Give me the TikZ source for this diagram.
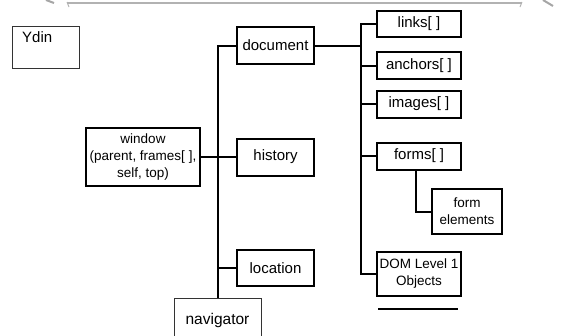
\documentclass[tikz,border=0pt]{standalone}
\usepackage{fontspec}
\setmainfont{Liberation Sans}
\begin{document}
\begin{tikzpicture}[x=1pt,y=-1pt,
  box/.style={draw=black, line width=2pt, inner sep=0pt, align=center, font=\fontsize{15}{17}\selectfont},
  smallbox/.style={box, font=\fontsize{13.5}{17}\selectfont},
  thinbox/.style={draw=black!80, line width=1pt, inner sep=0pt, align=center},
  conn/.style={line width=2pt, draw=black},
  topbar/.style={draw=black!30, line width=2.5pt}]
\useasboundingbox (0,0) rectangle (568,335);
\clip (0,0) rectangle (568,335);
% top grey bar
\draw[topbar] (67,3) -- (522,3);
\draw[draw=black!30, line width=1pt] (67,2) -- (69,7);
\draw[draw=black!30, line width=1pt] (522,2) -- (520,7);
\draw[draw=black!35, line width=2pt] (46,0) -- (54,3);
\draw[draw=black!35, line width=2pt] (543,0) -- (553,6);
% Ydin
\node[thinbox, minimum width=67, minimum height=42] (ydin) at (45.5,47) {};
\node[anchor=north west, inner sep=0pt, font=\fontsize{15}{18}\selectfont] (ydintext) at (22,31) {Ydin};
% main boxes
\node[smallbox, minimum width=114, minimum height=58] (window) at (143,157) {window\\(parent, frames[ ],\\self, top)};
\node[box, minimum width=77, minimum height=37] (document) at (275.5,45.5) {document};
\node[box, minimum width=77, minimum height=37] (history) at (275.5,157) {history};
\node[box, minimum width=77, minimum height=36] (location) at (275.5,268) {location};
\node[thinbox, minimum width=87, minimum height=44, font=\fontsize{15.5}{18}\selectfont] (navigator) at (217.5,320) {navigator};
% right column
\node[box, minimum width=84, minimum height=26] (links) at (419,24) {links[ ]};
\node[box, minimum width=84, minimum height=27] (anchors) at (419,65.5) {anchors[ ]};
\node[box, minimum width=84, minimum height=27] (images) at (419,104) {images[ ]};
\node[box, minimum width=84, minimum height=27] (forms) at (419,156) {forms[ ]};
\node[smallbox, minimum width=70, minimum height=45] (formel) at (467,211.5) {form\\elements};
\node[smallbox, minimum width=84, minimum height=44] (dom) at (419,274) {DOM Level 1\\Objects};
% connectors
\coordinate (bus) at (361,0);
\draw[conn] (document.west) -| (navigator.north);
\draw[conn] (window.east) -- (history.west);
\draw[conn] (location.west) -- (location.west -| navigator.north);
\draw[conn] (document.east) -- (document.east -| bus);
\draw[conn] (links.west) -| (bus |- dom.west) -- (dom.west);
\draw[conn] (anchors.west) -- (anchors.west -| bus);
\draw[conn] (images.west) -- (images.west -| bus);
\draw[conn] (forms.west) -- (forms.west -| bus);
\draw[conn] ([xshift=-3]forms.south) |- (formel.west);
% underline
\coordinate (ulA) at (378,309);
\coordinate (ulB) at (458,309);
\draw[line width=1.5pt] (ulA) -- (ulB);
\end{tikzpicture}
\end{document}
